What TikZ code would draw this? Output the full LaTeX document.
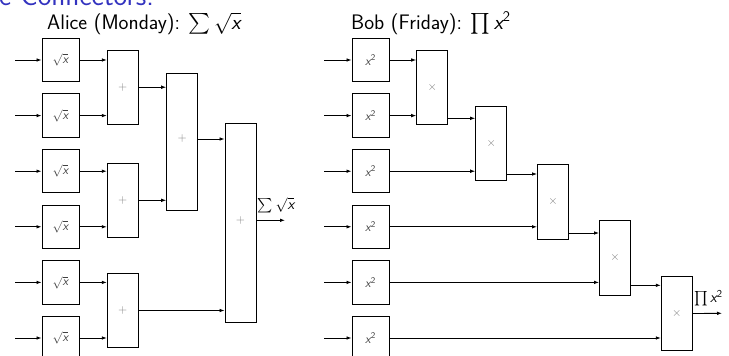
\documentclass[tikz,border=0pt]{standalone}
\usepackage{amsmath}
\usepackage{fontspec}
\usetikzlibrary{arrows.meta}
\newcommand\vx{\textsf{\itshape x}}
\definecolor{structblue}{rgb}{0.2,0.2,0.75}
\begin{document}
\begin{tikzpicture}[x=1pt,y=-1pt,
  conn/.style={line width=0.85pt,-{Latex[length=5pt,width=3.6pt]}},
  blk/.style={draw,line width=0.95pt,inner sep=0pt,minimum width=31pt,font=\sffamily\fontsize{12}{13}\selectfont,text=black!50},
  sgn/.style={inner sep=0pt,font=\sffamily\fontsize{12}{13}\selectfont,text=black!50},
  fbox/.style={draw,line width=0.95pt,inner sep=0pt,minimum width=37pt,minimum height=43.4pt,font=\sffamily\fontsize{12.5}{13}\selectfont,text=black!75},
  ttl/.style={font=\sffamily\fontsize{21}{24}\selectfont,anchor=base west,inner sep=0pt},
  lbl/.style={font=\sffamily\fontsize{15}{17}\selectfont,inner sep=1pt,anchor=south west,yshift=6pt}]
\useasboundingbox (0,0) rectangle (729,356);
\clip (0,0) rectangle (729,356);
% frame title (cut off at the top)
\node[font=\sffamily\fontsize{29}{32}\selectfont,text=structblue,anchor=base west,inner sep=0pt] (ft) at (-1,5.5) {e Connectors:};
% titles
\node[ttl] (ta) at (47,29.3) {Alice (Monday): \(\sum\sqrt{\vx}\)};
\node[ttl] (tb) at (351,29.3) {Bob (Friday): \(\prod\vx^{\textsf{2}}\)};
% ---------- Alice ----------
\foreach \i/\y in {1/60,2/115.6,3/171.2,4/226.8,5/282.4,6/338}{
  \node[fbox] (s\i) at (60.5,\y) {\(\sqrt{\vx}\)};
  \coordinate (ai\i) at (15,\y);
  \draw[conn] (ai\i) -- (s\i.west);
}
\node[blk,minimum height=74.4pt] (p12) at (122.8,87.2) {+};
\node[blk,minimum height=74pt] (p34) at (122.8,200.3) {+};
\node[blk,minimum height=74.4pt] (p56) at (122.8,310.5) {+};
\node[blk,minimum height=136.7pt] (q) at (182.2,142.3) {};
\node[blk,minimum height=198.7pt] (r) at (240.5,223.3) {};
\node[sgn] (qs) at (182.2,139) {+};
\node[sgn] (rs) at (240.5,221) {+};
\foreach \i/\p in {1/p12,2/p12,3/p34,4/p34,5/p56,6/p56}{
  \draw[conn] (s\i.east) -- (s\i.east -| \p.west);
}
\draw[conn] (p12.east) -- (p12.east -| q.west);
\draw[conn] (p34.east) -- (p34.east -| q.west);
\coordinate (qo) at (0,139);
\coordinate (ro) at (0,220.3);
\draw[conn] (q.east |- qo) -- (r.west |- qo);
\draw[conn] (p56.east) -- (p56.east -| r.west);
\coordinate (aout) at (285,220.3);
\draw[conn] (r.east |- ro) node[lbl] (la) {\(\sum\sqrt{\vx}\)} -- (aout);
% ---------- Bob ----------
\foreach \i/\y in {1/60,2/115.6,3/171.2,4/226.8,5/282.4,6/338}{
  \node[fbox] (b\i) at (370.5,\y) {\(\vx^{\textsf{2}}\)};
  \coordinate (bi\i) at (324,\y);
  \draw[conn] (bi\i) -- (b\i.west);
}
\node[blk,minimum height=74.3pt] (t1) at (432.2,87.2) {\(\times\)};
\node[blk,minimum height=74.3pt] (t2) at (491.2,143.2) {\(\times\)};
\node[blk,minimum height=74.7pt] (t3) at (553,201.7) {\(\times\)};
\node[blk,minimum height=74.7pt] (t4) at (615,257.7) {\(\times\)};
\node[blk,minimum height=74.4pt] (t5) at (676.8,313.5) {\(\times\)};
\draw[conn] (b1.east) -- (b1.east -| t1.west);
\draw[conn] (b2.east) -- (b2.east -| t1.west);
\draw[conn] (b3.east) -- (b3.east -| t2.west);
\draw[conn] (b4.east) -- (b4.east -| t3.west);
\draw[conn] (b5.east) -- (b5.east -| t4.west);
\draw[conn] (b6.east) -- (b6.east -| t5.west);
\coordinate (o1) at (0,118.3);
\coordinate (o2) at (0,174);
\coordinate (o3) at (0,233);
\coordinate (o4) at (0,285.3);
\draw[conn] (t1.east |- o1) -- (t2.west |- o1);
\draw[conn] (t2.east |- o2) -- (t3.west |- o2);
\draw[conn] (t3.east |- o3) -- (t4.west |- o3);
\draw[conn] (t4.east |- o4) -- (t5.west |- o4);
\coordinate (bout) at (722,313.3);
\draw[conn] (t5.east) node[lbl] (lb) {\(\prod\vx^{\textsf{2}}\)} -- (bout);
\end{tikzpicture}
\end{document}
